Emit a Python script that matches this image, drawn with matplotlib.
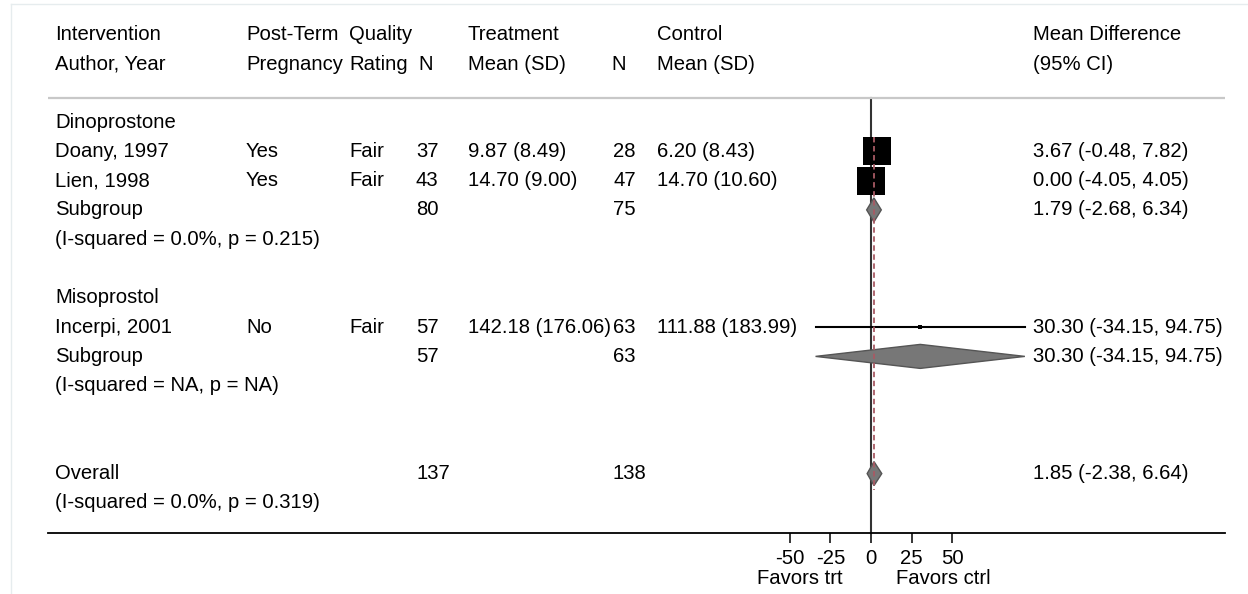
import matplotlib.pyplot as plt
import numpy as np
from matplotlib.patches import Polygon
from matplotlib.lines import Line2D
from matplotlib.transforms import blended_transform_factory

plt.rcParams['font.family'] = ['Liberation Sans', 'DejaVu Sans']

#----------------------------- data ----------------------------
groups = ["Dinoprostone", "Misoprostol"]
study_group = [0, 0, 1]
authors = ["Doany, 1997", "Lien, 1998", "Incerpi, 2001"]
post_term = ["Yes", "Yes", "No"]
quality = ["Fair", "Fair", "Fair"]
n_trt = [37, 43, 57]
trt_mean_sd = ["9.87 (8.49)", "14.70 (9.00)", "142.18 (176.06)"]
n_ctl = [28, 47, 63]
ctl_mean_sd = ["6.20 (8.43)", "14.70 (10.60)", "111.88 (183.99)"]
md = [3.67, 0.00, 30.30]
md_lo = [-0.48, -4.05, -34.15]
md_hi = [7.82, 4.05, 94.75]
weight = [48.7, 51.1, 0.2]

sub_md = [1.79, 30.30]
sub_lo = [-2.68, -34.15]
sub_hi = [6.34, 94.75]
sub_het = ["(I-squared = 0.0%, p = 0.215)", "(I-squared = NA, p = NA)"]

all_md, all_lo, all_hi = 1.85, -2.38, 6.64
all_het = "(I-squared = 0.0%, p = 0.319)"

ticks = [-50, -25, 0, 25, 50]

#----------------------------- layout ----------------------------
W, H = 1248, 594
x0_px, px_per_unit = 871, 40.6 / 25
def px2x(p):
    return (p - x0_px) / px_per_unit

row_h = 29.3
first_row = 122
def row_y(i):
    return first_row + i * row_h

fs = 14.6
fig = plt.figure(figsize=(W / 100, H / 100), dpi=100)
ax = fig.add_axes([0, 0, 1, 1])
ax.set_xlim(px2x(0), px2x(W))
ax.set_ylim(H, 0)
tr = blended_transform_factory(ax.transAxes, ax.transData)

def txt(xpix, y, s, **kw):
    ax.text(xpix / W, y, s, transform=tr, fontsize=fs, va='center', ha='left', **kw)

# column positions (pixels)
c_author, c_pt, c_q, c_nt, c_mt, c_nc, c_mc, c_md = 55, 246, 349, 416, 468, 613, 657, 1033

# header
hy1, hy2 = 34, 64
txt(c_author, hy1, "Intervention"); txt(c_author, hy2, "Author, Year")
txt(c_pt, hy1, "Post-Term"); txt(c_pt, hy2, "Pregnancy")
txt(c_q, hy1, "Quality"); txt(c_q, hy2, "Rating")
txt(c_nt + 2, hy2, "N")
txt(c_mt, hy1, "Treatment"); txt(c_mt, hy2, "Mean (SD)")
txt(c_nc - 2, hy2, "N")
txt(c_mc, hy1, "Control"); txt(c_mc, hy2, "Mean (SD)")
txt(c_md, hy1, "Mean Difference"); txt(c_md, hy2, "(95% CI)")

# top rule
ax.plot([px2x(48), px2x(1225)], [98, 98], color='#c8c8c8', lw=1.6, solid_capstyle='butt')

# reference lines
ax.plot([0, 0], [98, 533], color='#333333', lw=1.5, zorder=1)
ax.plot([all_md, all_md], [137, 490], color='#a85a64', lw=1.3, ls=(0, (3, 2)), zorder=4)

def diamond(y, est, lo, hi, h=12):
    ax.add_patch(Polygon([[lo, y], [est, y - h], [hi, y], [est, y + h]],
                         closed=True, fc='#777777', ec='#555555', lw=1, zorder=3))

wmax = max(weight)
row = 0
for g, gname in enumerate(groups):
    txt(c_author, row_y(row), gname)
    row += 1
    idx = [i for i in range(len(authors)) if study_group[i] == g]
    for i in idx:
        y = row_y(row)
        txt(c_author, y, authors[i]); txt(c_pt, y, post_term[i]); txt(c_q, y, quality[i])
        txt(c_nt, y, str(n_trt[i])); txt(c_mt, y, trt_mean_sd[i])
        txt(c_nc, y, str(n_ctl[i])); txt(c_mc, y, ctl_mean_sd[i])
        txt(c_md, y, "%.2f (%.2f, %.2f)" % (md[i], md_lo[i], md_hi[i]))
        ax.plot([md_lo[i], md_hi[i]], [y, y], color='black', lw=1.5, zorder=2)
        side = max(28 * np.sqrt(weight[i] / wmax), 4) * 0.72
        ax.plot([md[i]], [y], marker='s', ms=side, color='black', mew=0, zorder=3)
        row += 1
    y = row_y(row)
    txt(c_author, y, "Subgroup")
    txt(c_nt, y, str(sum(n_trt[i] for i in idx)))
    txt(c_nc, y, str(sum(n_ctl[i] for i in idx)))
    txt(c_md, y, "%.2f (%.2f, %.2f)" % (sub_md[g], sub_lo[g], sub_hi[g]))
    diamond(y, sub_md[g], sub_lo[g], sub_hi[g])
    row += 1
    txt(c_author, row_y(row), sub_het[g])
    row += 2

row += 1
y = row_y(row)
txt(c_author, y, "Overall")
txt(c_nt, y, str(sum(n_trt)))
txt(c_nc, y, str(sum(n_ctl)))
txt(c_md, y, "%.2f (%.2f, %.2f)" % (all_md, all_lo, all_hi))
diamond(y, all_md, all_lo, all_hi)
txt(c_author, row_y(row + 1), all_het)

# x axis
for s in ['top', 'right', 'left']:
    ax.spines[s].set_visible(False)
ax.spines['bottom'].set_position(('data', 533))
ax.spines['bottom'].set_bounds(px2x(48), px2x(1225))
ax.spines['bottom'].set_linewidth(1.3)
ax.set_xticks(ticks)
ax.set_xticklabels([str(t) for t in ticks])
ax.tick_params(axis='x', length=7.2, width=1.1, labelsize=fs, pad=4)
ax.set_yticks([])
ax.text(px2x(800), 578, "Favors trt", fontsize=fs, ha='center', va='center')
ax.text(px2x(943), 578, "Favors ctrl", fontsize=fs, ha='center', va='center')

# faint panel border
fig.add_artist(Line2D([11 / W, 11 / W], [0, 1 - 4 / H], color='#e6ecee', lw=1))
fig.add_artist(Line2D([11 / W, 1], [1 - 4 / H, 1 - 4 / H], color='#e6ecee', lw=1))

fig.savefig("out.png", dpi=100)
